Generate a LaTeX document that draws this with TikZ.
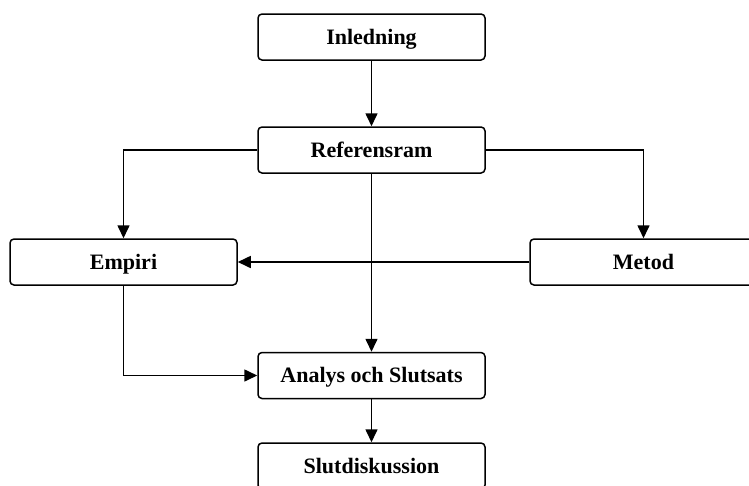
\documentclass[tikz,border=0pt]{standalone}
\usepackage{fontspec}
\setmainfont{Liberation Serif}
\usetikzlibrary{arrows.meta}
\begin{document}
\begin{tikzpicture}[x=1pt,y=-1pt,
  box/.style={draw=black, line width=1.5pt, rounded corners=4pt, minimum width=227pt, minimum height=46pt, inner sep=0pt, text height=16pt, text depth=1.4pt, font=\fontsize{22}{24}\selectfont\bfseries},
  conn/.style={line width=1.6pt, -{Triangle[length=13pt,width=12pt]}}]
\useasboundingbox (0,0) rectangle (749,485);
\clip (0,0) rectangle (749,485);
\node[box] (inl) at (371.5,37) {Inledning};
\node[box] (ref) at (371.5,150) {Referensram};
\node[box] (emp) at (123.5,262) {Empiri};
\node[box] (met) at (643.5,262) {Metod};
\node[box] (ana) at (371.5,375.5) {Analys och Slutsats};
\node[box] (slu) at (371.5,466) {Slutdiskussion};
\draw[conn] (inl) -- (ref);
\draw[conn] (ref.west) -| (emp.north);
\draw[conn] (ref.east) -| (met.north);
\draw[conn] (ref) -- (ana);
\draw[conn] (met) -- (emp);
\draw[conn] (emp.south) |- (ana.west);
\draw[conn] (ana) -- (slu);
\end{tikzpicture}
\end{document}
